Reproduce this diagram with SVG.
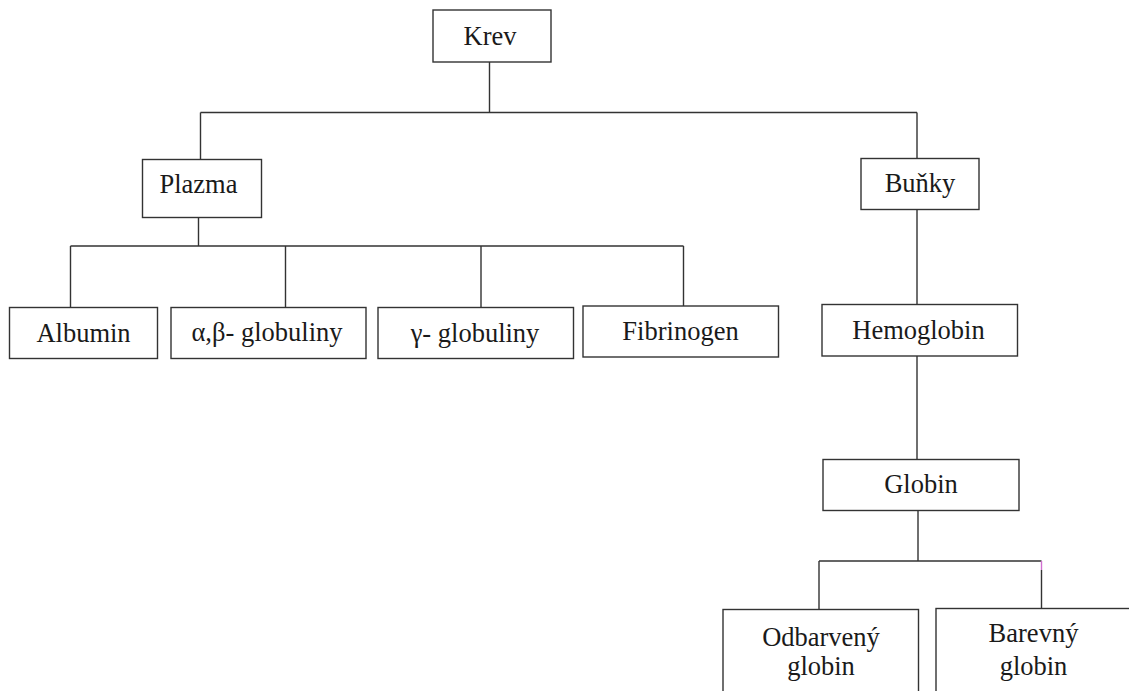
<svg xmlns="http://www.w3.org/2000/svg" width="1129" height="691" viewBox="0 0 1129 691">
<style>
.box{fill:#fff;stroke:#333;stroke-width:1.4}
.ln{fill:none;stroke:#333;stroke-width:1.4}
.t{font-family:'Liberation Serif','DejaVu Serif',serif;font-size:26.5px;fill:#1a1a1a;text-anchor:middle}
</style>
<rect width="1129" height="691" fill="#fff"/>
<g id="connectors">
<path class="ln" d="M489.5 62V112.5M200.5 112.5H917M200.5 112.5V159.5M917 112.5V158.5"/>
<path class="ln" d="M198.5 217.5V246M70.5 246H683.5M70.5 246V307.5M285.5 246V307.5M481 246V307.5M683.5 246V306"/>
<path class="ln" d="M917 209.5V304.5M917 356V459.5M918 510.5V561M819 561H1041.5M819 561V609.5M1041.5 570V608.5"/>
<path d="M1041.5 561V570" fill="none" stroke="#d070d0" stroke-width="1.4"/>
</g>
<g id="krev"><rect class="box" x="433" y="10" width="118" height="52"/><text class="t" x="490" y="45">Krev</text></g>
<g id="plazma"><rect class="box" x="142.5" y="159.5" width="119" height="58"/><text class="t" x="198.5" y="193">Plazma</text></g>
<g id="bunky"><rect class="box" x="861" y="158.5" width="118" height="51"/><text class="t" x="920" y="191.5">Buňky</text></g>
<g id="albumin"><rect class="box" x="9.5" y="307.5" width="148" height="51"/><text class="t" x="83.5" y="341.5">Albumin</text></g>
<g id="ab-globuliny"><rect class="box" x="171" y="307.5" width="195" height="51"/><text class="t" x="267" y="341">α,β- globuliny</text></g>
<g id="g-globuliny"><rect class="box" x="378" y="307.5" width="195.5" height="51"/><text class="t" x="475" y="341.5">γ- globuliny</text></g>
<g id="fibrinogen"><rect class="box" x="583" y="306" width="195.5" height="51"/><text class="t" x="680.5" y="339.5">Fibrinogen</text></g>
<g id="hemoglobin"><rect class="box" x="822" y="304.5" width="195.5" height="51.5"/><text class="t" x="918.5" y="338.5">Hemoglobin</text></g>
<g id="globin"><rect class="box" x="823" y="459.5" width="196" height="51"/><text class="t" x="921" y="492.5">Globin</text></g>
<g id="odbarveny"><rect class="box" x="723" y="609.5" width="195.5" height="90"/><text class="t" x="821" y="646">Odbarvený</text><text class="t" x="821" y="674.5">globin</text></g>
<g id="barevny"><rect class="box" x="936" y="608.5" width="200" height="90"/><text class="t" x="1033.5" y="642">Barevný</text><text class="t" x="1033.5" y="674.5">globin</text></g>
</svg>
